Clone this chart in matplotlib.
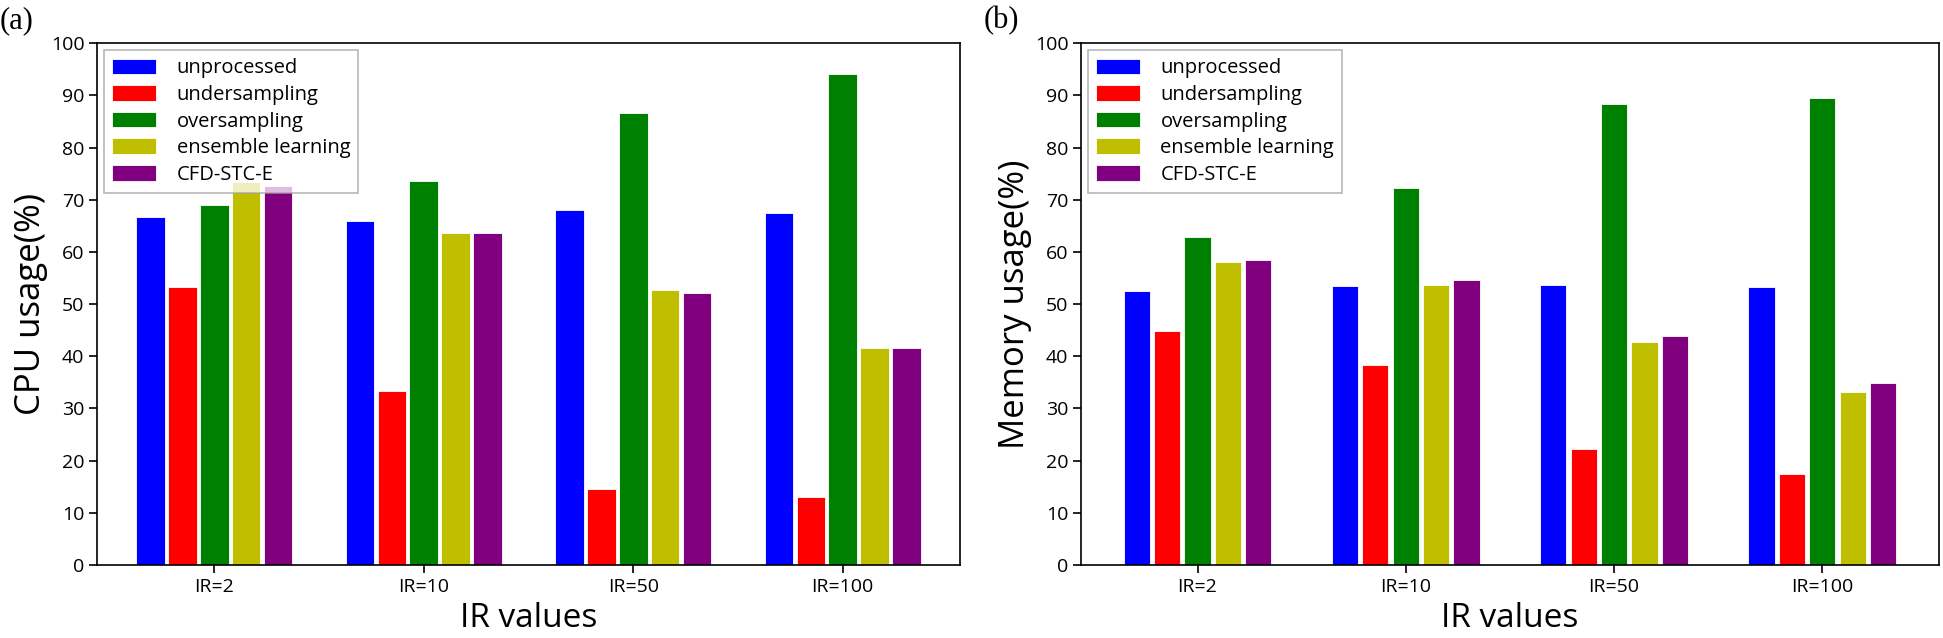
import matplotlib.pyplot as plt
import numpy as np

# Data
groups = ["IR=2", "IR=10", "IR=50", "IR=100"]
methods = ["unprocessed", "undersampling", "oversampling", "ensemble learning", "CFD-STC-E"]
colors = ["blue", "red", "green", "y", "purple"]

cpu_unprocessed = [66.6, 66.0, 68.0, 67.4]
cpu_under = [53.3, 33.4, 14.6, 13.1]
cpu_over = [68.9, 73.6, 86.7, 94.0]
cpu_ensemble = [73.3, 63.6, 52.7, 41.5]
cpu_cfd = [72.7, 63.6, 52.2, 41.5]

mem_unprocessed = [52.6, 53.5, 53.7, 53.2]
mem_under = [44.9, 38.4, 22.2, 17.5]
mem_over = [62.8, 72.3, 88.3, 89.4]
mem_ensemble = [58.1, 53.7, 42.8, 33.1]
mem_cfd = [58.5, 54.6, 43.9, 34.8]

plt.rcParams['font.family'] = ['Open Sans', 'DejaVu Sans']

fig = plt.figure(figsize=(19.43, 6.38), dpi=100)
ax1 = fig.add_axes([0.0499, 0.1144, 0.4442, 0.818])
ax2 = fig.add_axes([0.5563, 0.1144, 0.4416, 0.818])

x = np.arange(len(groups))


def draw(ax, series, step, width, ylabel):
    for i, (vals, lab, col) in enumerate(zip(series, methods, colors)):
        ax.bar(x + (i - 2) * step, vals, width, color=col, label=lab,
               edgecolor='white', linewidth=0.6)
    ax.set_xlim(-0.56, 3.56)
    ax.set_ylim(0, 100)
    ax.set_yticks(range(0, 101, 10))
    ax.set_xticks(x)
    ax.set_xticklabels(groups)
    ax.tick_params(axis='both', labelsize=14, length=6, width=1.2)
    ax.tick_params(axis='x', pad=3)
    ax.tick_params(axis='y', pad=3)
    for s in ax.spines.values():
        s.set_linewidth(1.2)
    ax.set_xlabel('IR values', fontsize=24, labelpad=5)
    ax.set_ylabel(ylabel, fontsize=25, labelpad=2)
    leg = ax.legend(loc='upper left', fontsize=14.5, fancybox=False, framealpha=0.75,
                    edgecolor='#a0a0a0', handlelength=2.2, handleheight=0.8,
                    handletextpad=1.0, borderaxespad=0.35, labelspacing=0.33,
                    borderpad=0.4)
    leg.get_frame().set_linewidth(1.2)


draw(ax1, [cpu_unprocessed, cpu_under, cpu_over, cpu_ensemble, cpu_cfd],
     0.152, 0.137, 'CPU usage(%)')
draw(ax2, [mem_unprocessed, mem_under, mem_over, mem_ensemble, mem_cfd],
     0.146, 0.126, 'Memory usage(%)')

fig.text(0.0, 0.968, '(a)', fontsize=22, family='Liberation Serif', va='center')
fig.text(0.506, 0.968, '(b)', fontsize=22, family='Liberation Serif', va='center')

plt.savefig('out.png', dpi=100)
